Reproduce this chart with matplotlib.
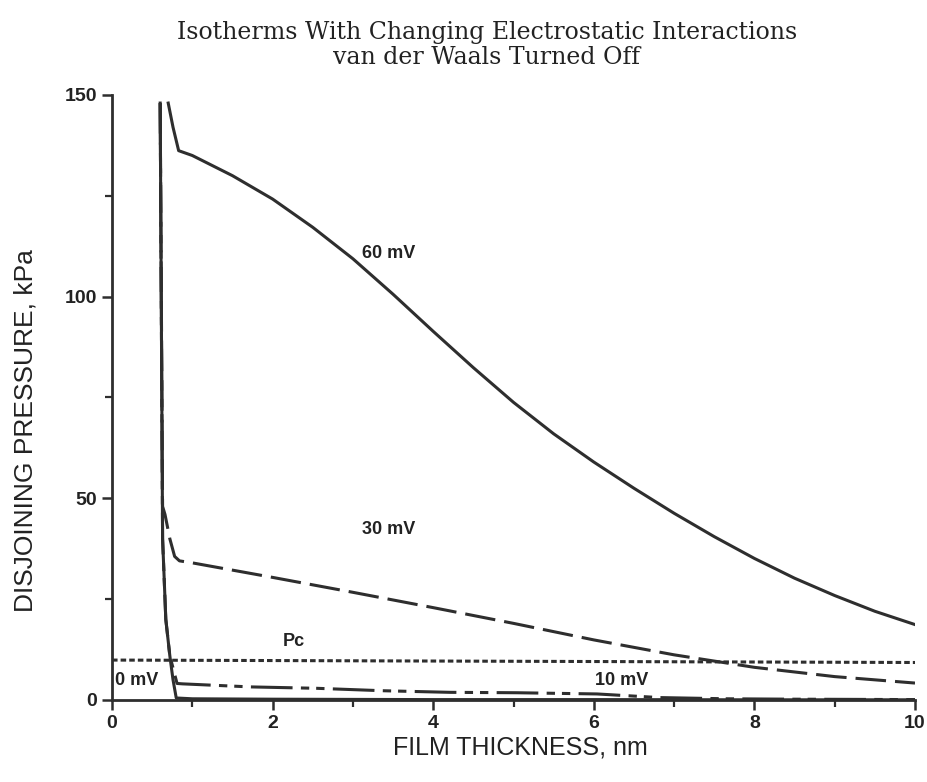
import matplotlib
matplotlib.use("Agg")
import matplotlib.pyplot as plt
from matplotlib.ticker import MultipleLocator

plt.rcParams['lines.scale_dashes'] = False

# ---- data (film thickness nm, disjoining pressure kPa) ----
x_60 = [0.70, 0.76, 0.83, 1.0, 1.5, 2.0, 2.5, 3.0, 3.5, 4.0, 4.5, 5.0, 5.5,
        6.0, 6.5, 7.0, 7.5, 8.0, 8.5, 9.0, 9.5, 10.0]
y_60 = [148, 142, 136.2, 135.0, 130.0, 124.2, 117.2, 109.4, 100.6, 91.4, 82.4,
        73.8, 66.0, 59.0, 52.5, 46.3, 40.5, 35.1, 30.2, 25.9, 22.0, 18.7]

x_30 = [0.60, 0.63, 0.66, 0.72, 0.78, 0.84, 1.0, 2.0, 3.0, 4.0, 5.0, 6.0,
        7.0, 8.0, 9.0, 10.0]
y_30 = [148, 48, 46, 40, 35.6, 34.5, 34.0, 30.4, 26.7, 22.9, 19.0, 14.9,
        11.2, 8.1, 5.8, 4.2]

x_10 = [0.60, 0.63, 0.67, 0.72, 0.81, 0.88, 1.72, 2.55, 3.37, 4.21, 5.04, 6.04,
        6.82, 7.66, 8.5, 9.3, 10.0]
y_10 = [148, 40, 20, 11, 4.1, 4.0, 3.25, 2.9, 2.3, 1.9, 1.8, 1.5, 0.6, 0.3,
        0.2, 0.15, 0.1]

x_0 = [0.60, 0.63, 0.67, 0.72, 0.76, 0.80, 1.0, 2.0, 4.0, 6.0, 8.0, 10.0]
y_0 = [148, 40, 20, 11, 5, 0.5, 0.3, 0.2, 0.1, 0.1, 0.05, 0.05]

x_pc = [0.0, 10.0]
y_pc = [9.9, 9.3]

labels = ["60 mV", "30 mV", "10 mV", "0 mV", "Pc"]
label_pos = [(3.45, 110.8), (3.45, 42.2), (6.35, 4.8), (0.31, 4.9), (2.27, 14.4)]

x_ticks = [0, 2, 4, 6, 8, 10]
y_ticks = [0, 50, 100, 150]

title_lines = ["Isotherms With Changing Electrostatic Interactions",
               "van der Waals Turned Off"]
xlabel = "FILM THICKNESS, nm"
ylabel = "DISJOINING PRESSURE, kPa"

# ---- figure ----
fig = plt.figure(figsize=(9.28, 7.82), dpi=100)
ax = fig.add_axes([112/928, 82/782, 803/928, 605/782])

col = '#2e2e2e'
lw = 2.2
ax.plot(x_60, y_60, color=col, lw=lw, solid_joinstyle='round')
ax.plot(x_30, y_30, color=col, lw=lw, linestyle=(0, (22, 6.5)))
ax.plot(x_10, y_10, color=col, lw=lw, linestyle=(0, (30, 6, 6, 5, 6, 6)))
ax.plot(x_0, y_0, color=col, lw=lw, solid_joinstyle='round')
ax.plot(x_pc, y_pc, color=col, lw=lw, linestyle=(0, (4, 2.2)))

for t, (xx, yy) in zip(labels, label_pos):
    ax.text(xx, yy, t, ha='center', va='center', fontsize=13,
            fontweight='bold', family='Liberation Sans', color='#222222')

ax.set_xlim(0, 10)
ax.set_ylim(0, 150)
ax.set_xticks(x_ticks)
ax.set_yticks(y_ticks)
ax.xaxis.set_minor_locator(MultipleLocator(1))
ax.yaxis.set_minor_locator(MultipleLocator(25))
for s in ['top', 'right']:
    ax.spines[s].set_visible(False)
for s in ['left', 'bottom']:
    ax.spines[s].set_linewidth(2.0)
    ax.spines[s].set_color(col)
ax.tick_params(which='major', direction='out', length=7, width=1.8, color=col, pad=3.5)
ax.tick_params(which='minor', direction='out', length=5, width=1.6, color=col)
for lab in ax.get_xticklabels() + ax.get_yticklabels():
    lab.set_family('Liberation Sans')
    lab.set_fontweight('bold')
    lab.set_fontsize(14)
    lab.set_color('#222222')

ax.set_xlabel(xlabel, fontsize=18, family='Liberation Sans', color='#222222', va='center')
ax.set_ylabel(ylabel, fontsize=19, family='Liberation Sans', color='#222222', va='center')
ax.xaxis.set_label_coords(0.508, -0.079)
ax.yaxis.set_label_coords(-0.108, 0.446)

fig.text(487/928, 1 - 32/782, title_lines[0], ha='center', va='center',
         fontsize=17, family='DejaVu Serif', color='#222222')
fig.text(487/928, 1 - 58/782, title_lines[1], ha='center', va='center',
         fontsize=17, family='DejaVu Serif', color='#222222')

fig.savefig("out.png", dpi=100, facecolor='white')
